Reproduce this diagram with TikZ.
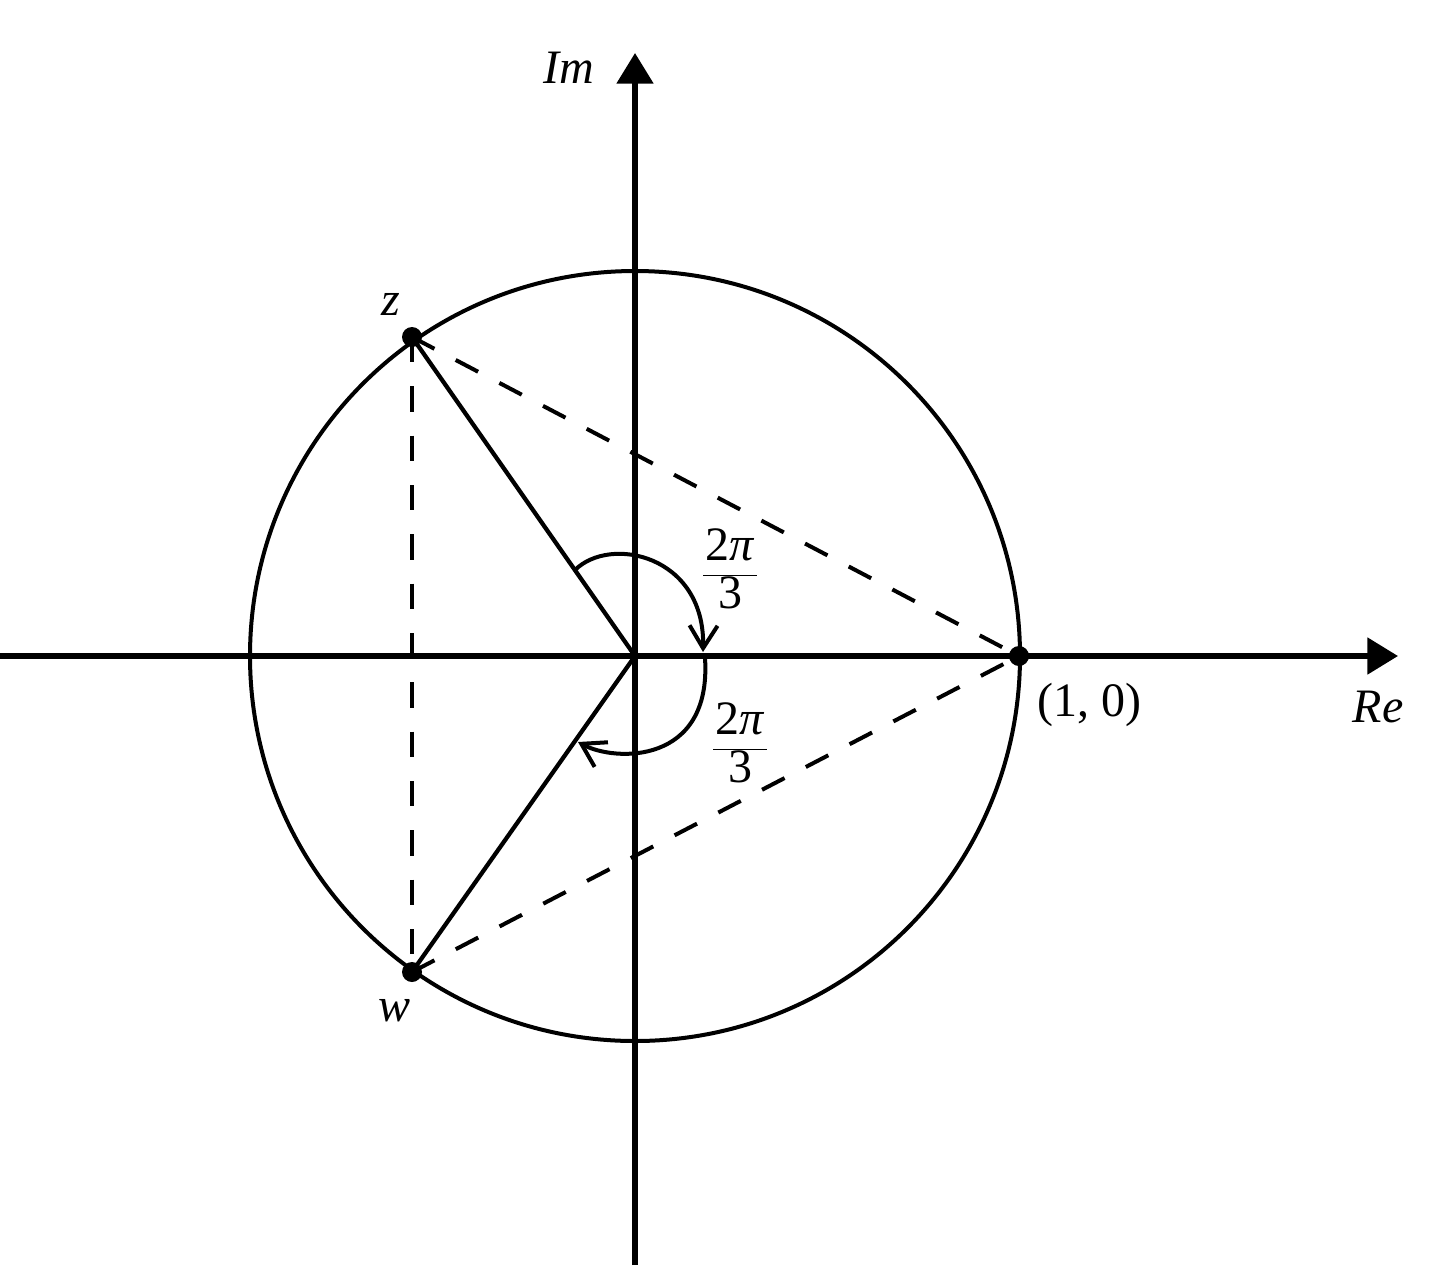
\documentclass[tikz,border=0pt]{standalone}
\usepackage{fontspec}
\setmainfont{Liberation Serif}
\usetikzlibrary{arrows.meta}

\tikzset{every picture/.style={line width=0.75pt}}
\tikzset{
  axis/.style={line width=4pt,-{Triangle[length=23pt,width=27pt]}},
  unitcirc/.style={line width=3pt},
  spoke/.style={line width=3.2pt},
  chord/.style={line width=3pt,dash pattern=on 19pt off 18pt},
  turn/.style={line width=3pt,-{Straight Barb[length=17pt,width=21pt]}},
  dot/.style={circle,fill=black,inner sep=0pt,minimum size=15pt},
  lbl/.style={inner sep=0.75pt,font=\fontsize{36}{42}\selectfont},
}
\newcommand{\twothirdspi}{$\displaystyle\frac{\mkern1.5mu\textup{2}\textit{π}\mkern1.5mu}{\textup{3}}$}

\begin{document}
\begin{tikzpicture}[x=0.75pt,y=0.75pt,yscale=-1,xscale=1]
\useasboundingbox (0,0) rectangle (1445,1265);

% Points
\coordinate (O) at (635,656);
\node[dot] (one) at (1019,656) {};
\node[dot] (z) at (412,337) {};
\node[dot] (w) at (412,972) {};

% Axes
\coordinate (xstart) at (0,656);
\coordinate (xend) at (1398,656);
\coordinate (ystart) at (635,1265);
\coordinate (yend) at (635,53);
\draw[axis] (xstart) -- (xend);
\draw[axis] (ystart) -- (yend);

% Unit circle
\draw[unitcirc] (O) circle [radius=385];

% Radii
\draw[spoke] (O) -- (z.center);
\draw[spoke] (O) -- (w.center);

% Chords
\draw[chord] (z.center) -- (one.center);
\draw[chord] (w.center) -- (one.center);
\draw[chord] (z.center) -- (w.center);

% Angle arcs
\coordinate (t1s) at (575,570);
\coordinate (t1e) at (703,652);
\coordinate (t2s) at (705,658);
\coordinate (t2e) at (578,742);
\draw[turn] (t1s) .. controls (610,535) and (705,555) .. (t1e);
\draw[turn] (t2s) .. controls (712,765) and (615,762) .. (t2e);

% Text Node
\node[lbl] (imlbl) at (569,68) {\textit{Im}};
\node[lbl] (relbl) at (1378,707) {\textit{Re}};
\node[lbl] (onelbl) at (1089,705) {(1, 0)};
\node[lbl] (zlbl) at (391,304) {\textit{z}};
\node[lbl] (wlbl) at (395,1011) {\textit{w}};
\node[lbl] (ang1) at (730,569) {\twothirdspi};
\node[lbl] (ang2) at (740,743) {\twothirdspi};

\end{tikzpicture}
\end{document}
